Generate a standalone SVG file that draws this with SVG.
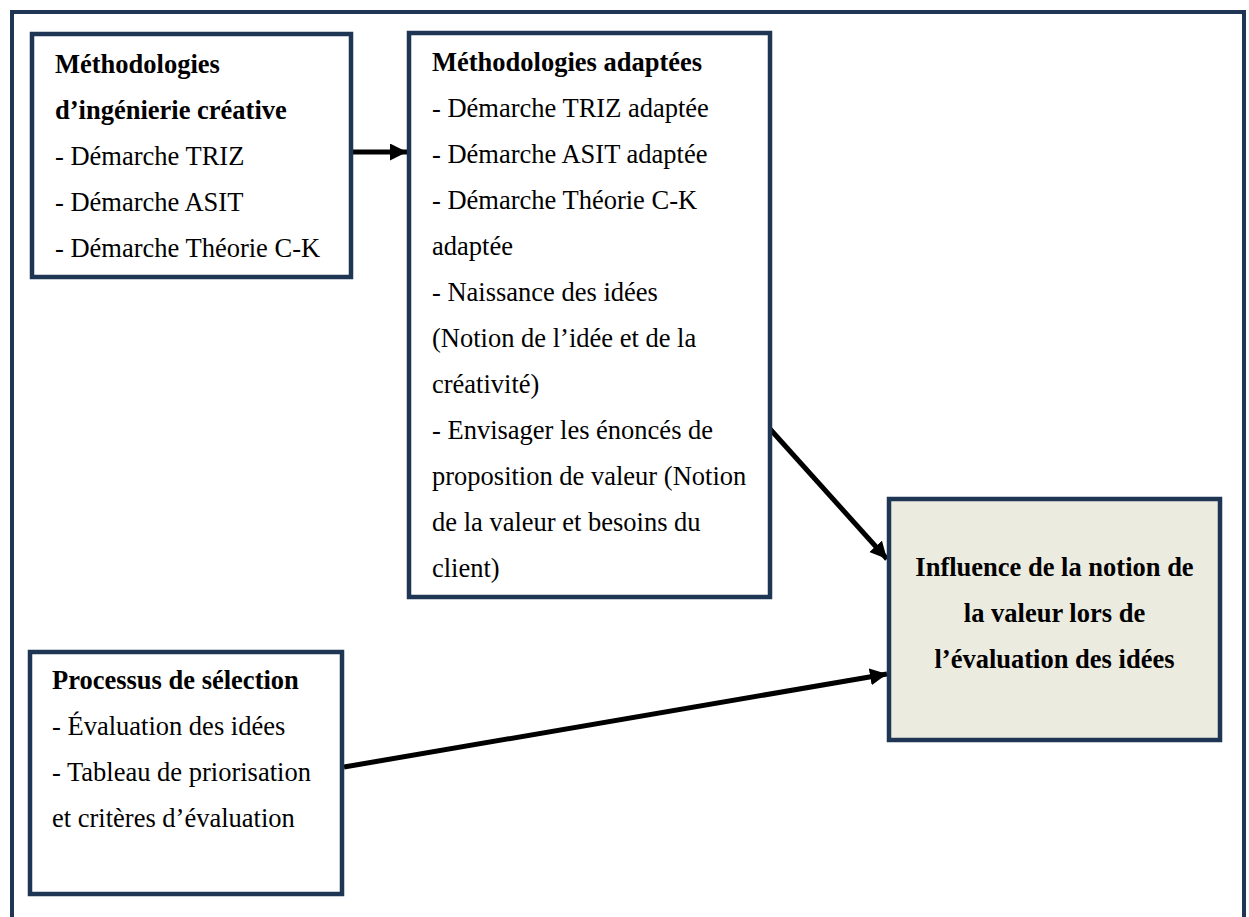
<svg xmlns="http://www.w3.org/2000/svg" width="1249" height="917" viewBox="0 0 1249 917">
  <style>
    .box { fill: #ffffff; stroke: #1e3553; stroke-width: 4.5; }
    .goal { fill: #ecebe0; stroke: #1e3553; stroke-width: 4.5; }
    .frame { fill: none; stroke: #1e3553; stroke-width: 4; }
    text { font-family: "Liberation Serif", "Times New Roman", serif; font-size: 26.5px; fill: #000000; }
    .b { font-weight: bold; }
    .edge { stroke: #000000; stroke-width: 5; fill: none; }
  </style>
  <defs>
    <marker id="arrow" markerUnits="userSpaceOnUse" markerWidth="20" markerHeight="20" refX="17" refY="8.5" orient="auto">
      <path d="M0,0 L17,8.5 L0,17 Z" fill="#000000"/>
    </marker>
  </defs>
  <rect width="1249" height="917" fill="#ffffff"/>

  <!-- outer frame, open at the bottom -->
  <path class="frame" d="M12,930 L12,12 L1244,12 L1244,930"/>

  <!-- connectors -->
  <g id="connectors">
    <line class="edge" x1="353" y1="152" x2="407" y2="152" marker-end="url(#arrow)"/>
    <line class="edge" x1="770" y1="429" x2="887" y2="559" marker-end="url(#arrow)"/>
    <line class="edge" x1="344" y1="767" x2="887" y2="674" marker-end="url(#arrow)"/>
  </g>

  <g id="creative-methods">
    <rect class="box" x="32" y="34" width="319" height="243"/>
    <text x="55" y="73" class="b">Méthodologies</text>
    <text x="55" y="119" class="b">d’ingénierie créative</text>
    <text x="55" y="165">- Démarche TRIZ</text>
    <text x="55" y="211">- Démarche ASIT</text>
    <text x="55" y="257">- Démarche Théorie C-K</text>
  </g>

  <g id="adapted-methods">
    <rect class="box" x="409" y="33" width="361" height="564"/>
    <text x="432" y="71" class="b">Méthodologies adaptées</text>
    <text x="432" y="117">- Démarche TRIZ adaptée</text>
    <text x="432" y="163">- Démarche ASIT adaptée</text>
    <text x="432" y="209">- Démarche Théorie C-K</text>
    <text x="432" y="255">adaptée</text>
    <text x="432" y="301">- Naissance des idées</text>
    <text x="432" y="347">(Notion de l’idée et de la</text>
    <text x="432" y="393">créativité)</text>
    <text x="432" y="439">- Envisager les énoncés de</text>
    <text x="432" y="485">proposition de valeur (Notion</text>
    <text x="432" y="531">de la valeur et besoins du</text>
    <text x="432" y="577">client)</text>
  </g>

  <g id="value-influence">
    <rect class="goal" x="889" y="499" width="331" height="241"/>
    <text x="1054.5" y="576" class="b" text-anchor="middle">Influence de la notion de</text>
    <text x="1054.5" y="622" class="b" text-anchor="middle">la valeur lors de</text>
    <text x="1054.5" y="668" class="b" text-anchor="middle">l’évaluation des idées</text>
  </g>

  <g id="selection-process">
    <rect class="box" x="30" y="652" width="312" height="242"/>
    <text x="52" y="689" class="b">Processus de sélection</text>
    <text x="52" y="735">- Évaluation des idées</text>
    <text x="52" y="781">- Tableau de priorisation</text>
    <text x="52" y="827">et critères d’évaluation</text>
  </g>
</svg>
